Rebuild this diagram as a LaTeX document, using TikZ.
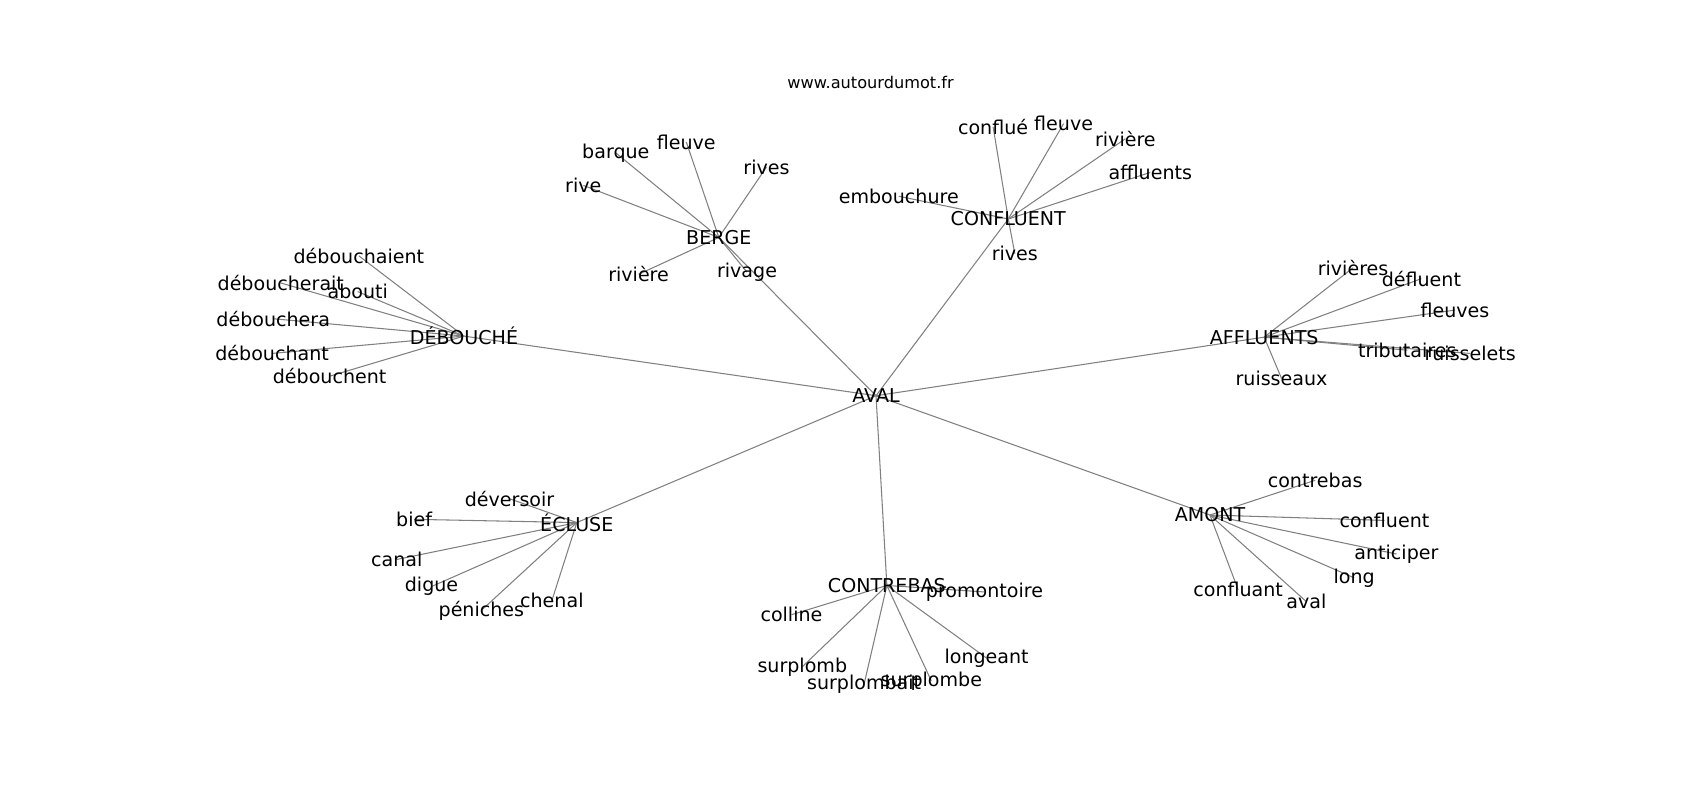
\documentclass[tikz,border=0pt]{standalone}
\usepackage{fontspec}
\setmainfont{DejaVu Sans}
\usetikzlibrary{backgrounds}

\begin{document}
\begin{tikzpicture}[
    x=0.02168cm, y=-0.02168cm,
    every node/.style={inner sep=0pt, font=\fontsize{10.85}{13}\selectfont},
    title/.style={font=\fontsize{9.2}{11}\selectfont},
    edge/.style={draw=gray, line width=0.6pt}
]
\useasboundingbox (0,0) rectangle (1568,738);

% Title
\node[title] (site) at (803,76) {www.autourdumot.fr};

% Nodes - hubs
\node (aval) at (808,365) {AVAL};
\node (berge) at (663,219) {BERGE};
\node (confluent) at (930,202) {CONFLUENT};
\node (debouche) at (428,310) {DÉBOUCHÉ};
\node (affluents) at (1166,311) {AFFLUENTS};
\node (ecluse) at (532,482) {ÉCLUSE};
\node (contrebas) at (818,540) {CONTREBAS};
\node (amont) at (1116,475) {AMONT};

% Nodes - berge
\node (bbarque) at (568,141) {barque};
\node (bfleuve) at (633,131) {fleuve};
\node (brives) at (707,154) {rives};
\node (brive) at (538,171) {rive};
\node (briviere) at (589,253) {rivière};
\node (brivage) at (689,251) {rivage};

% Nodes - confluent
\node (cconflue) at (916,117) {conflué};
\node (cfleuve) at (981,114) {fleuve};
\node (criviere) at (1038,128) {rivière};
\node (caffluents) at (1061,159) {affluents};
\node (cembouchure) at (829,181) {embouchure};
\node (crives) at (936,234) {rives};

% Nodes - debouche
\node (ddebouchaient) at (331,236) {débouchaient};
\node (ddeboucherait) at (259,261) {déboucherait};
\node (dabouti) at (330,269) {abouti};
\node (ddebouchera) at (252,294) {débouchera};
\node (ddebouchant) at (251,326) {débouchant};
\node (ddebouchent) at (304,347) {débouchent};

% Nodes - affluents
\node (arivieres) at (1248,247) {rivières};
\node (adefluent) at (1311,257) {défluent};
\node (afleuves) at (1342,286) {fleuves};
\node (atributaires) at (1298,323) {tributaires};
\node (aruisselets) at (1356,326) {ruisselets};
\node (aruisseaux) at (1182,349) {ruisseaux};

% Nodes - ecluse
\node (edeversoir) at (470,460) {déversoir};
\node (ebief) at (382,479) {bief};
\node (ecanal) at (366,516) {canal};
\node (edigue) at (398,541) {digue};
\node (epeniches) at (444,563) {péniches};
\node (echenal) at (509,554) {chenal};

% Nodes - contrebas
\node (kpromontoire) at (908,546) {promontoire};
\node (kcolline) at (730,567) {colline};
\node (ksurplomb) at (740,615) {surplomb};
\node (ksurplombait) at (797,631) {surplombait};
\node (ksurplombe) at (859,628) {surplombe};
\node (klongeant) at (910,607) {longeant};

% Nodes - amont
\node (mcontrebas) at (1213,443) {contrebas};
\node (mconfluent) at (1277,480) {confluent};
\node (manticiper) at (1288,511) {anticiper};
\node (mlong) at (1249,533) {long};
\node (mconfluant) at (1142,544) {confluant};
\node (maval) at (1205,555) {aval};

% Edges
\begin{scope}[on background layer]
\foreach \h in {berge, confluent, debouche, affluents, ecluse, contrebas, amont}
    \draw[edge] (aval.center) -- (\h.center);
\foreach \n in {bbarque, bfleuve, brives, brive, briviere, brivage}
    \draw[edge] (berge.center) -- (\n.center);
\foreach \n in {cconflue, cfleuve, criviere, caffluents, cembouchure, crives}
    \draw[edge] (confluent.center) -- (\n.center);
\foreach \n in {ddebouchaient, ddeboucherait, dabouti, ddebouchera, ddebouchant, ddebouchent}
    \draw[edge] (debouche.center) -- (\n.center);
\foreach \n in {arivieres, adefluent, afleuves, atributaires, aruisselets, aruisseaux}
    \draw[edge] (affluents.center) -- (\n.center);
\foreach \n in {edeversoir, ebief, ecanal, edigue, epeniches, echenal}
    \draw[edge] (ecluse.center) -- (\n.center);
\foreach \n in {kpromontoire, kcolline, ksurplomb, ksurplombait, ksurplombe, klongeant}
    \draw[edge] (contrebas.center) -- (\n.center);
\foreach \n in {mcontrebas, mconfluent, manticiper, mlong, mconfluant, maval}
    \draw[edge] (amont.center) -- (\n.center);
\end{scope}

\end{tikzpicture}
\end{document}
